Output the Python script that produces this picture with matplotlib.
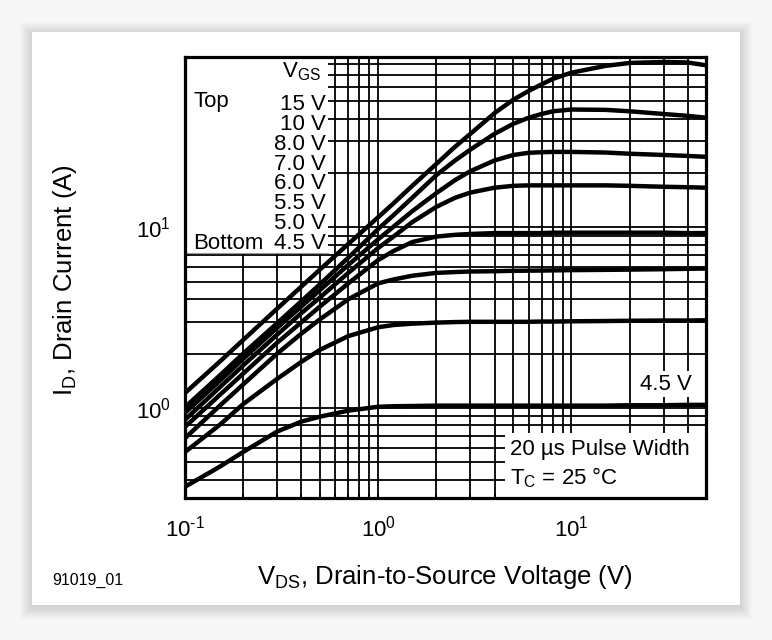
import numpy as np
import matplotlib.pyplot as plt
from matplotlib.patches import Rectangle
from matplotlib.lines import Line2D
from matplotlib.ticker import LogLocator, FixedLocator, FuncFormatter, NullFormatter

plt.rcParams['font.family'] = ['Liberation Sans', 'DejaVu Sans']
plt.rcParams['mathtext.fontset'] = 'custom'
plt.rcParams['mathtext.rm'] = 'Liberation Sans'
plt.rcParams['mathtext.it'] = 'Liberation Sans:italic'
plt.rcParams['mathtext.default'] = 'regular'

# drain-source voltage (V)
vds = [0.1, 0.15, 0.2, 0.3, 0.4, 0.5, 0.7, 1, 1.2, 1.5, 2, 2.5, 3, 4, 5, 6, 7, 8,
       10, 15, 20, 30, 40, 50]

# drain current (A) per gate voltage
id_15v = [1.21, 1.79, 2.38, 3.55, 4.7, 5.85, 8.1, 11.4, 13.6, 17, 22.5, 28, 33, 43, 51,
          57, 62, 66.5, 72, 78.5, 81.5, 82.5, 82, 79]
id_10v = [1.01, 1.5, 2.0, 2.95, 3.9, 4.85, 6.8, 9.8, 11.7, 14.6, 19.5, 23.5, 27, 33, 37.5,
          40.5, 42.5, 44, 45, 44.8, 44, 42.5, 41.5, 40.5]
id_8v = [0.94, 1.4, 1.87, 2.78, 3.65, 4.5, 6.2, 8.6, 10.1, 12.3, 15.5, 18.3, 20.5, 23.5,
         25.2, 25.9, 26.1, 26.2, 26.2, 26, 25.6, 25.2, 24.9, 24.6]
id_7v = [0.86, 1.29, 1.72, 2.55, 3.35, 4.1, 5.6, 7.7, 8.9, 10.7, 13, 14.6, 15.6, 16.6,
         17, 17.1, 17.1, 17.1, 17.1, 17.1, 17, 16.8, 16.7, 16.6]
id_6v = [0.785, 1.17, 1.55, 2.3, 2.98, 3.65, 4.9, 6.6, 7.4, 8.3, 8.9, 9.1, 9.2, 9.3,
         9.3, 9.3, 9.3, 9.35, 9.35, 9.35, 9.35, 9.35, 9.3, 9.3]
id_55v = [0.68, 1.02, 1.35, 2.0, 2.58, 3.1, 4.0, 4.9, 5.15, 5.4, 5.6, 5.66, 5.7, 5.72,
          5.75, 5.76, 5.77, 5.78, 5.8, 5.82, 5.84, 5.87, 5.9, 5.92]
id_5v = [0.57, 0.8, 1.05, 1.45, 1.8, 2.1, 2.5, 2.8, 2.88, 2.93, 2.97, 2.99, 3.0, 3.0,
         3.0, 3.0, 3.01, 3.01, 3.02, 3.03, 3.04, 3.05, 3.05, 3.06]
id_45v = [0.366, 0.47, 0.57, 0.74, 0.84, 0.895, 0.966, 1.015, 1.022, 1.025, 1.03, 1.03,
          1.03, 1.03, 1.03, 1.03, 1.03, 1.03, 1.03, 1.03, 1.035, 1.035, 1.04, 1.04]

curves = [id_15v, id_10v, id_8v, id_7v, id_6v, id_55v, id_5v, id_45v]
vgs_labels = ['15 V', '10 V', '8.0 V', '7.0 V', '6.0 V', '5.5 V', '5.0 V', '4.5 V']

W, H = 772, 640
fig = plt.figure(figsize=(W / 100, H / 100), dpi=100, facecolor='#f7f7f7')

# page with soft shadow
px0, py0, px1, py1 = 32, 32, 740, 605
for k in range(12, 0, -1):
    fig.patches.append(Rectangle(((px0 - k) / W, (H - py1 - k - 2) / H),
                                 (px1 - px0 + 2 * k) / W, (py1 - py0 + 2 * k) / H,
                                 transform=fig.transFigure, facecolor='black',
                                 edgecolor='none', alpha=0.010, zorder=-20))
fig.patches.append(Rectangle((px0 / W, (H - py1) / H), (px1 - px0) / W, (py1 - py0) / H,
                             transform=fig.transFigure, facecolor='white',
                             edgecolor='none', zorder=-10))

ax_l, ax_r, ax_t, ax_b = 185, 706.5, 57.3, 498
ax = fig.add_axes([ax_l / W, (H - ax_b) / H, (ax_r - ax_l) / W, (ax_b - ax_t) / H])
ax.set_facecolor('white')


def axf(px, py):
    return (px - ax_l) / (ax_r - ax_l), (ax_b - py) / (ax_b - ax_t)


for ids in curves:
    ax.plot(vds, ids, color='black', lw=3.2, solid_joinstyle='round',
            solid_capstyle='butt', zorder=2)

ax.set_xscale('log')
ax.set_yscale('log')
ax.set_xlim(0.1, 50)
ax.set_ylim(0.317, 87.6)

ax.xaxis.set_major_locator(FixedLocator([0.1, 1, 10]))
ax.yaxis.set_major_locator(FixedLocator([1, 10]))
ax.xaxis.set_minor_locator(LogLocator(base=10, subs=np.arange(2, 10)))
ax.yaxis.set_minor_locator(LogLocator(base=10, subs=np.arange(2, 10)))


def pow_label(v, p):
    e = int(round(np.log10(v)))
    return r'$10^{%s}$' % (('\u2010%d' % -e) if e < 0 else '%d' % e)


fmt = FuncFormatter(pow_label)
ax.xaxis.set_major_formatter(fmt)
ax.yaxis.set_major_formatter(fmt)
ax.xaxis.set_minor_formatter(NullFormatter())
ax.yaxis.set_minor_formatter(NullFormatter())
ax.grid(which='both', color='black', lw=1.3)
ax.set_axisbelow('line')
ax.tick_params(which='both', direction='in', length=3, width=1.3, labelsize=16)
ax.tick_params(axis='x', pad=13)
ax.tick_params(axis='y', pad=10)
for s in ax.spines.values():
    s.set_linewidth(2.3)
    s.set_zorder(4)

# legend box upper left
bx, by = axf(328, 253)
ax.add_patch(Rectangle((0, by), bx, 1 - by, transform=ax.transAxes,
                       facecolor='white', edgecolor='none', zorder=1.7))
ax.add_line(Line2D([0, bx], [by, by], transform=ax.transAxes, color='#999999',
                   lw=0.8, zorder=1.8))

fs = 16
tx, ty = axf(321, 72)
ax.text(tx, ty, r'V$_{GS}$', transform=ax.transAxes, ha='right', va='center',
        fontsize=fs, zorder=3)
for i, lab in enumerate(vgs_labels):
    tx, ty = axf(326, 104.5 + i * 19.86)
    ax.text(tx, ty, lab, transform=ax.transAxes, ha='right', va='center',
            fontsize=fs, zorder=3)
tx, ty = axf(193, 102)
ax.text(tx, ty, 'Top', transform=ax.transAxes, ha='left', va='center', fontsize=fs, zorder=3)
tx, ty = axf(193, 243.5)
ax.text(tx, ty, 'Bottom', transform=ax.transAxes, ha='left', va='center', fontsize=fs, zorder=3)

# 4.5 V curve label
tx, ty = axf(692, 384)
ax.text(tx, ty, '4.5 V', transform=ax.transAxes, ha='right', va='center', fontsize=fs,
        zorder=3, bbox=dict(facecolor='white', edgecolor='none', pad=2))

# conditions box lower right
cx, cy = axf(505, 432.7)
ax.add_patch(Rectangle((cx, 0), 1 - cx, cy, transform=ax.transAxes,
                       facecolor='white', edgecolor='none', zorder=1.7))
tx, ty = axf(510, 450)
ax.text(tx, ty, '20 µs Pulse Width', transform=ax.transAxes, ha='left', va='center',
        fontsize=fs, zorder=3)
tx, ty = axf(510, 478)
ax.text(tx, ty, r'T$_C$ = 25 °C', transform=ax.transAxes, ha='left', va='center',
        fontsize=fs, zorder=3)

fig.text(445 / W, 1 - 577 / H, r'V$_{DS}$, Drain-to-Source Voltage (V)',
         ha='center', va='center', fontsize=18.5)
fig.text(65 / W, 1 - 280 / H, r'I$_D$, Drain Current (A)', rotation=90,
         ha='center', va='center', fontsize=18.5)
fig.text(52 / W, 1 - 580 / H, '91019_01', ha='left', va='center', fontsize=11.5)

fig.savefig('out.png', dpi=100, facecolor=fig.get_facecolor())
